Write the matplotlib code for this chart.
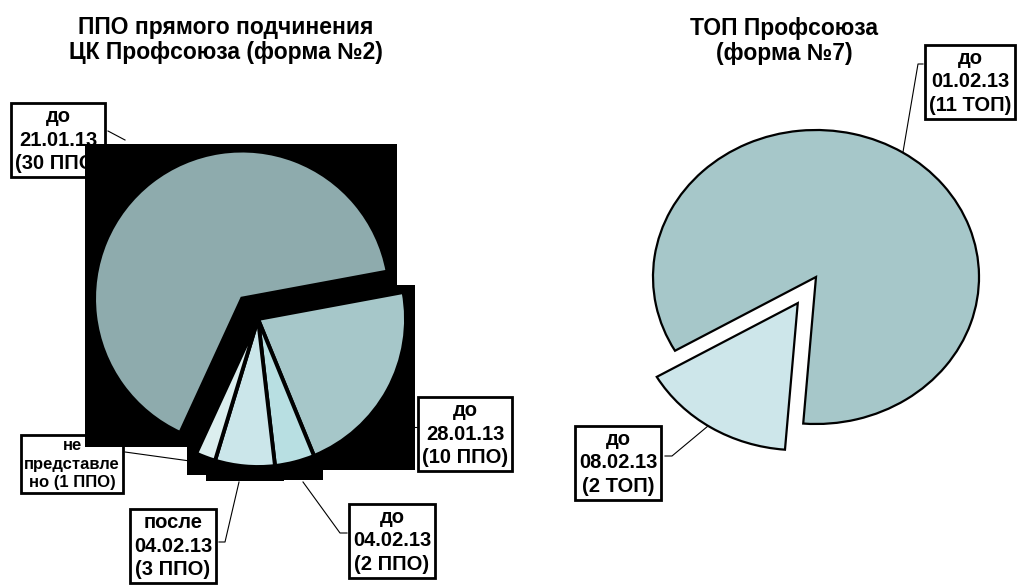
import matplotlib
matplotlib.use("Agg")
import matplotlib.pyplot as plt
from matplotlib import font_manager
from matplotlib.patches import Rectangle
from matplotlib.lines import Line2D

# Form No.2: primary organisations, by reporting date
ppo_values = [30, 10, 2, 3, 1]
ppo_dates = ["до\n21.01.13", "до\n28.01.13", "до\n04.02.13", "после\n04.02.13", "не\nпредставле\nно"]
ppo_colors = ["#8eabad", "#a6c7c9", "#b8dfe2", "#cbe6ea", "#dcefef"]

# Form No.7: territorial organisations
top_values = [11, 2]
top_dates = ["до\n01.02.13", "до\n08.02.13"]
top_colors = ["#a6c7c9", "#cde6ea"]

W, H = 1017, 585
FONT = "Liberation Sans"
installed = {f.name for f in font_manager.fontManager.ttflist}
NARROW = "Liberation Sans Narrow" if "Liberation Sans Narrow" in installed else None


def fx(x):
    return x / W


def fy(y):
    return 1 - y / H


def fit_axes(ax, cx, cy, rx, ry):
    """Place the unit circle of ax at pixel (cx, cy) with radii rx, ry."""
    ax.set_aspect("auto")
    ax.set_xlim(-cx / rx, (W - cx) / rx)
    ax.set_ylim(-(H - cy) / ry, cy / ry)
    ax.axis("off")


def label_box(x, y, text, family=FONT, size=14.5):
    fig.text(fx(x), fy(y), text, ha="center", va="center", fontsize=size,
             fontweight="bold", family=family, linespacing=1.28, zorder=-2,
             bbox=dict(boxstyle="square,pad=0.2", fc="white", ec="black", lw=2))


def leader(points):
    xs = [fx(p[0]) for p in points]
    ys = [fy(p[1]) for p in points]
    fig.add_artist(Line2D(xs, ys, color="black", lw=0.8, zorder=-3))


fig = plt.figure(figsize=(W / 100, H / 100), dpi=100)
fig.patch.set_facecolor("white")

# ---- left pie ----
lcx, lcy, lr = 258, 319, 148
ax1 = fig.add_axes([0, 0, 1, 1])
wedges, _ = ax1.pie(ppo_values, colors=ppo_colors, startangle=245.3, counterclock=False,
                    explode=[0.175, 0, 0, 0, 0],
                    wedgeprops=dict(edgecolor="black", linewidth=2.8, zorder=3))
fit_axes(ax1, lcx, lcy, lr, lr)

# black boxes behind every slice
for w in wedges:
    bb = w.get_path().get_extents(w.get_patch_transform())
    pl, pr, pt, pb = 9 / lr, 9 / lr, 7 / lr, 14 / lr
    ax1.add_patch(Rectangle((bb.x0 - pl, bb.y0 - pb), bb.width + pl + pr, bb.height + pt + pb,
                            fc="black", ec="none", zorder=1))

# ---- right pie ----
rcx, rcy, rrx, rry = 816, 277, 163, 147
ax2 = fig.add_axes([0, 0, 1, 1])
ax2.pie(top_values, colors=top_colors, startangle=-94.5, counterclock=True,
        explode=[0, 0.21],
        wedgeprops=dict(edgecolor="black", linewidth=1.6))
fit_axes(ax2, rcx, rcy, rrx, rry)

# ---- titles ----
fig.text(fx(226), fy(40), "ППО прямого подчинения\nЦК Профсоюза (форма №2)", ha="center",
         va="center", fontsize=16.5, fontweight="bold", family=FONT, linespacing=1.1)
fig.text(fx(784), fy(41), "ТОП Профсоюза\n(форма №7)", ha="center",
         va="center", fontsize=16.5, fontweight="bold", family=FONT, linespacing=1.1)

# ---- data labels ----
ppo_pos = [(58, 140), (465, 434), (392, 541), (173, 546), (72, 464)]
for (x, y), d, v in zip(ppo_pos, ppo_dates, ppo_values):
    if d.endswith("но"):
        # the long wrapped label is set narrower
        if NARROW:
            label_box(x, y, f"{d} ({v} ППО)", family=NARROW, size=14.5)
        else:
            label_box(x, y, f"{d} ({v} ППО)", size=12)
    else:
        label_box(x, y, f"{d}\n({v} ППО)")

top_pos = [(970, 82), (618, 463)]
for (x, y), d, v in zip(top_pos, top_dates, top_values):
    label_box(x, y, f"{d}\n({v} ТОП)")

leader([(108, 131), (125, 140)])
leader([(417, 427), (410, 427)])
leader([(125, 452), (190, 461)])
leader([(219, 542), (225, 542), (239, 482)])
leader([(303, 482), (340, 533), (347, 533)])
leader([(923, 64), (918, 64), (903, 152)])
leader([(665, 456), (672, 456), (708, 426)])

fig.savefig("out.png", dpi=100, facecolor="white")
